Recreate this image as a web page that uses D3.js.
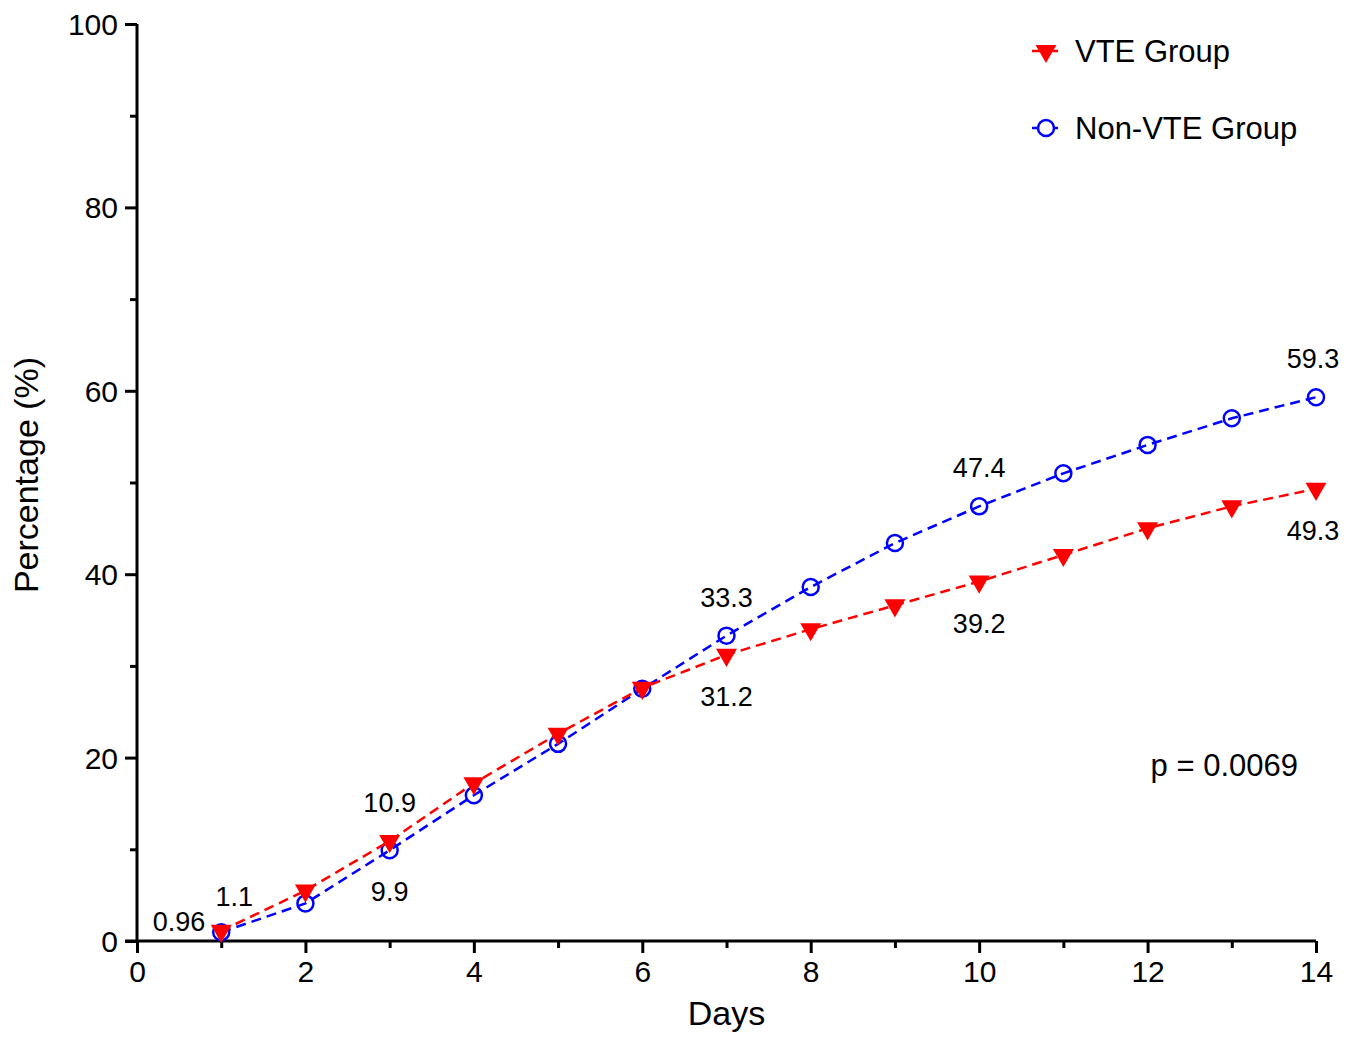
<!DOCTYPE html>
<html>
<head>
<meta charset="utf-8">
<script src="https://cdn.jsdelivr.net/npm/d3@7"></script>
<style>
  body { margin: 0; background: #fff; }
  text { font-family: "Liberation Sans", Arial, sans-serif; fill: #000; }
</style>
</head>
<body>
<div id="chart"></div>
<script>
var days = [1, 2, 3, 4, 5, 6, 7, 8, 9, 10, 11, 12, 13, 14];
var vteValues = [1.1, 5.5, 10.9, 17.2, 22.6, 27.6, 31.2, 34.0, 36.6, 39.2, 42.1, 45.0, 47.4, 49.3];
var nonVteValues = [0.96, 4.1, 9.9, 15.9, 21.5, 27.5, 33.3, 38.6, 43.4, 47.4, 51.0, 54.1, 57.0, 59.3];
var xTicks = [0, 2, 4, 6, 8, 10, 12, 14];
var yTicks = [0, 20, 40, 60, 80, 100];
// labelled points: [day, text, placement] (-1 above, 1 below, 0 left)
var vteLabels = [[1, "1.1", -1], [3, "10.9", -1], [7, "31.2", 1], [10, "39.2", 1], [14, "49.3", 1]];
var nonVteLabels = [[1, "0.96", 0], [3, "9.9", 1], [7, "33.3", -1], [10, "47.4", -1], [14, "59.3", -1]];

var w = 1360, h = 1038;
var x = d3.scaleLinear().domain([0, 14]).range([137, 1316]);
var y = d3.scaleLinear().domain([0, 100]).range([941, 24]);

var svg = d3.select("#chart").append("svg")
  .attr("width", w)
  .attr("height", h);

// axes
var xAxis = svg.append("g")
  .attr("transform", "translate(0," + y(0) + ")")
  .call(d3.axisBottom(x).tickValues(xTicks).tickSize(12).tickPadding(5).tickFormat(d3.format("d")));
svg.append("g")
  .attr("transform", "translate(0," + y(0) + ")")
  .call(d3.axisBottom(x).tickValues(d3.range(1, 14, 2)).tickSize(7).tickFormat(""))
  .call((g) => g.select(".domain").remove());

var yAxis = svg.append("g")
  .attr("transform", "translate(" + x(0) + ",0)")
  .call(d3.axisLeft(y).tickValues(yTicks).tickSize(12).tickPadding(7));
svg.append("g")
  .attr("transform", "translate(" + x(0) + ",0)")
  .call(d3.axisLeft(y).tickValues(d3.range(10, 100, 20)).tickSize(7).tickFormat(""))
  .call((g) => g.select(".domain").remove());

svg.selectAll(".domain").attr("stroke", "#000").attr("stroke-width", 3);
xAxis.select(".domain").attr("d", "M" + (x(0) - 12) + ",0H" + x(14));
yAxis.select(".domain").attr("d", "M0," + y(0) + "V" + y(100));
svg.selectAll(".tick line").attr("stroke", "#000").attr("stroke-width", 3);
svg.selectAll(".tick text").style("font-size", "30px").attr("fill", "#000");
xAxis.selectAll(".tick text").attr("dy", "0.8em");
yAxis.selectAll(".tick text").attr("dy", "0.35em");

// axis titles
svg.append("text")
  .attr("x", x(7))
  .attr("y", 1025)
  .attr("text-anchor", "middle")
  .style("font-size", "34px")
  .text("Days");
svg.append("text")
  .attr("transform", "translate(38,475) rotate(-90)")
  .attr("text-anchor", "middle")
  .style("font-size", "34px")
  .text("Percentage (%)");

var line = d3.line().x((d) => x(d[0])).y((d) => y(d[1]));
var tri = d3.symbol().type(d3.symbolTriangle).size(190);

function drawSeries(values, color, marker) {
  var pts = days.map((d, i) => [d, values[i]]);
  svg.append("path")
    .datum(pts)
    .attr("d", line)
    .attr("fill", "none")
    .attr("stroke", color)
    .attr("stroke-width", 2.5)
    .attr("stroke-dasharray", "10,6");
  var g = svg.append("g");
  if (marker == "tri") {
    g.selectAll("path").data(pts).enter().append("path")
      .attr("d", tri)
      .attr("transform", (d) => "translate(" + x(d[0]) + "," + y(d[1]) + ") rotate(180)")
      .attr("fill", color);
  } else {
    g.selectAll("circle").data(pts).enter().append("circle")
      .attr("cx", (d) => x(d[0]))
      .attr("cy", (d) => y(d[1]))
      .attr("r", 8)
      .attr("fill", "none")
      .attr("stroke", color)
      .attr("stroke-width", 2.5);
  }
}

drawSeries(nonVteValues, "#0000ff", "circle");
drawSeries(vteValues, "#ff0000", "tri");

function drawLabels(labels, values) {
  svg.append("g").selectAll("text").data(labels).enter().append("text")
    .attr("x", (d) => d[2] == 0 ? x(d[0]) - 16 : x(d[0]) + (d[0] == 14 ? -3 : 0) + (d[0] == 1 ? 13 : 0))
    .attr("y", (d) => {
      var v = values[days.indexOf(d[0])];
      if (d[2] == 0) return y(v) - 1;
      if (d[0] == 1) return y(v) - 25;
      return d[2] < 0 ? y(v) - 29 : y(v) + 51;
    })
    .attr("text-anchor", (d) => d[2] == 0 ? "end" : "middle")
    .style("font-size", "27px")
    .text((d) => d[1]);
}
drawLabels(vteLabels, vteValues);
drawLabels(nonVteLabels, nonVteValues);

// legend
var legend = svg.append("g");
legend.append("line")
  .attr("x1", 1032).attr("x2", 1060).attr("y1", 51).attr("y2", 51)
  .attr("stroke", "#ff0000").attr("stroke-width", 2.5).attr("stroke-dasharray", "10,6");
legend.append("path")
  .attr("d", tri)
  .attr("transform", "translate(1046,51) rotate(180)")
  .attr("fill", "#ff0000");
legend.append("text")
  .attr("x", 1075).attr("y", 62)
  .style("font-size", "31px")
  .text("VTE Group");
legend.append("line")
  .attr("x1", 1032).attr("x2", 1060).attr("y1", 128).attr("y2", 128)
  .attr("stroke", "#0000ff").attr("stroke-width", 2.5).attr("stroke-dasharray", "10,6");
legend.append("circle")
  .attr("cx", 1046).attr("cy", 128).attr("r", 8)
  .attr("fill", "#fff").attr("stroke", "#0000ff").attr("stroke-width", 2.5);
legend.append("text")
  .attr("x", 1075).attr("y", 139)
  .style("font-size", "31px")
  .text("Non-VTE Group");

svg.append("text")
  .attr("x", 1298).attr("y", 776)
  .attr("text-anchor", "end")
  .style("font-size", "31px")
  .text("p = 0.0069");
</script>
</body>
</html>
